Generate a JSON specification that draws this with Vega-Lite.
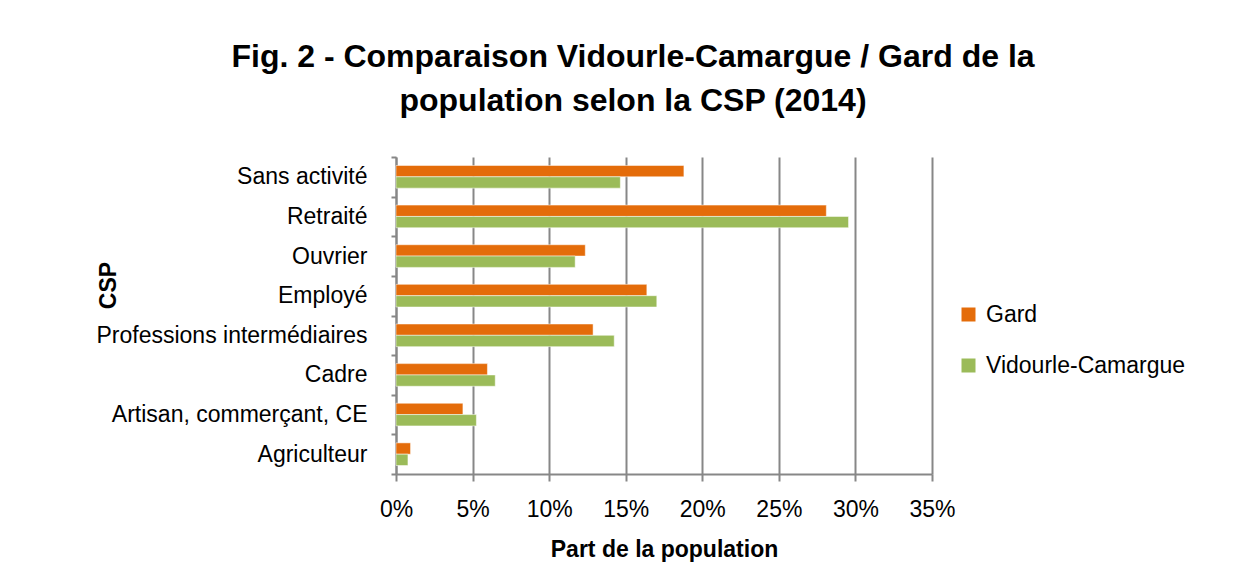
{
  "$schema": "https://vega.github.io/schema/vega-lite/v6.json",
  "autosize": "none",
  "width": 536,
  "height": 317,
  "padding": {"left": 396, "top": 157, "right": 310, "bottom": 112},
  "background": "white",
  "title": {
    "text": ["Fig. 2 - Comparaison Vidourle-Camargue / Gard de la", "population selon la CSP (2014)"],
    "font": "Liberation Sans",
    "fontSize": 32,
    "fontWeight": "bold",
    "color": "#000000",
    "anchor": "middle",
    "dx": -31,
    "offset": 28,
    "lineHeight": 44
  },
  "data": {
    "values": [
      {"csp": "Sans activité", "zone": "Gard", "part": 0.188},
      {"csp": "Sans activité", "zone": "Vidourle-Camargue", "part": 0.1465},
      {"csp": "Retraité", "zone": "Gard", "part": 0.281},
      {"csp": "Retraité", "zone": "Vidourle-Camargue", "part": 0.2955},
      {"csp": "Ouvrier", "zone": "Gard", "part": 0.1236},
      {"csp": "Ouvrier", "zone": "Vidourle-Camargue", "part": 0.117},
      {"csp": "Employé", "zone": "Gard", "part": 0.1638},
      {"csp": "Employé", "zone": "Vidourle-Camargue", "part": 0.1703},
      {"csp": "Professions intermédiaires", "zone": "Gard", "part": 0.1287},
      {"csp": "Professions intermédiaires", "zone": "Vidourle-Camargue", "part": 0.1425},
      {"csp": "Cadre", "zone": "Gard", "part": 0.0597},
      {"csp": "Cadre", "zone": "Vidourle-Camargue", "part": 0.0648},
      {"csp": "Artisan, commerçant, CE", "zone": "Gard", "part": 0.0437},
      {"csp": "Artisan, commerçant, CE", "zone": "Vidourle-Camargue", "part": 0.0525},
      {"csp": "Agriculteur", "zone": "Gard", "part": 0.0095},
      {"csp": "Agriculteur", "zone": "Vidourle-Camargue", "part": 0.0078}
    ]
  },
  "mark": {"type": "bar", "stroke": "white", "strokeWidth": 0.5},
  "encoding": {
    "x": {
      "field": "part",
      "type": "quantitative",
      "scale": {"domain": [0, 0.35], "nice": false},
      "axis": {
        "format": ".0%",
        "values": [0, 0.05, 0.1, 0.15, 0.2, 0.25, 0.3, 0.35],
        "labelFlush": false,
        "title": "Part de la population",
        "titleFont": "Liberation Sans",
        "titleFontSize": 23,
        "titleFontWeight": "bold",
        "titleColor": "#000000",
        "titlePadding": 17,
        "labelFont": "Liberation Sans",
        "labelFontSize": 23,
        "labelColor": "#000000",
        "labelPadding": 17,
        "tickSize": 7,
        "tickColor": "#878787",
        "tickWidth": 2,
        "domainColor": "#878787",
        "domainWidth": 2,
        "grid": true,
        "gridColor": "#878787",
        "gridWidth": 2
      }
    },
    "y": {
      "field": "csp",
      "type": "nominal",
      "sort": ["Sans activité", "Retraité", "Ouvrier", "Employé", "Professions intermédiaires", "Cadre", "Artisan, commerçant, CE", "Agriculteur"],
      "scale": {"paddingInner": 0, "paddingOuter": 0},
      "axis": {
        "title": "CSP",
        "titleFont": "Liberation Sans",
        "titleFontSize": 23,
        "titleFontWeight": "bold",
        "titleColor": "#000000",
        "titleAngle": 270,
        "titleX": -288,
        "titleY": 128,
        "titleAlign": "center",
        "titleBaseline": "middle",
        "labelFont": "Liberation Sans",
        "labelFontSize": 23,
        "labelColor": "#000000",
        "labelPadding": 24,
        "labelLimit": 0,
        "tickBand": "extent",
        "tickSize": 5,
        "tickColor": "#878787",
        "tickWidth": 2,
        "domainColor": "#878787",
        "domainWidth": 2,
        "grid": false
      }
    },
    "yOffset": {
      "field": "zone",
      "type": "nominal",
      "sort": ["Gard", "Vidourle-Camargue"],
      "scale": {"paddingInner": 0, "paddingOuter": 0.75}
    },
    "color": {
      "field": "zone",
      "type": "nominal",
      "sort": ["Gard", "Vidourle-Camargue"],
      "scale": {"domain": ["Gard", "Vidourle-Camargue"], "range": ["#E46C0A", "#9BBB59"]},
      "legend": {
        "title": null,
        "orient": "none",
        "legendX": 561,
        "legendY": 146,
        "symbolType": "square",
        "symbolSize": 196,
        "symbolStrokeWidth": 0,
        "labelFont": "Liberation Sans",
        "labelFontSize": 23,
        "labelColor": "#000000",
        "labelLimit": 0,
        "rowPadding": 27,
        "labelOffset": 6
      }
    }
  },
  "config": {
    "view": {"stroke": null}
  }
}
